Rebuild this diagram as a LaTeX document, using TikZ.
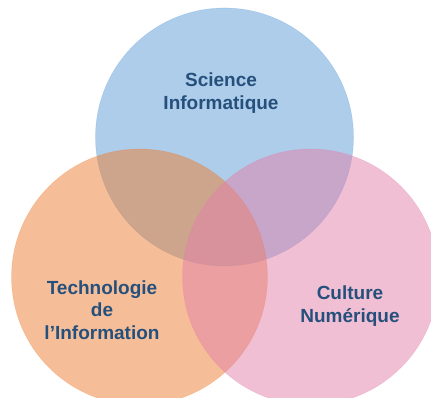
\documentclass[tikz,border=0pt]{standalone}
\usepackage{fontspec}
\setmainfont{Liberation Sans}
\usetikzlibrary{shapes,arrows}

\definecolor{sciblue}{RGB}{91,155,213}
\definecolor{techorange}{RGB}{237,125,49}
\definecolor{culpink}{RGB}{226,128,170}
\definecolor{labelblue}{RGB}{38,80,124}

\begin{document}
\begin{tikzpicture}[x=1pt,y=1pt]
	\tikzstyle{every node}=[font=\fontsize{19}{22.5}\selectfont\bfseries, text=labelblue, align=center]
	\tikzstyle{set}=[fill opacity=0.5, draw opacity=0.25, line width=0.6]

	%% page
	\useasboundingbox (0,0) rectangle (431,398);
	\clip (0,0) rectangle (431,398);

	%% sets
	\draw [set, fill=sciblue, draw=sciblue]  (224.5,261.0) circle (129);
	\draw [set, fill=techorange, draw=techorange]  (139.5,121.0) circle (128);
	\draw [set, fill=culpink, draw=culpink]  (310.5,121.0) circle (128);

	%% labels
	\node (sci)  at (221.0,305.0)  {Science\\Informatique};
	\node (tech) at (102.0,88.0)  {Technologie\\de\\l’Information};
	\node (cult) at (350.0,92.0)  {Culture\\Numérique};
\end{tikzpicture}
\end{document}
